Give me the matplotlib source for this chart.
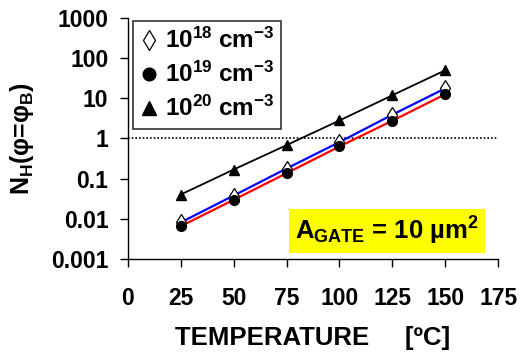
import matplotlib
matplotlib.use("Agg")
import matplotlib.pyplot as plt
import numpy as np

plt.rcParams['font.family'] = ['Liberation Sans', 'DejaVu Sans']
plt.rcParams['font.weight'] = 'bold'
plt.rcParams['mathtext.fontset'] = 'custom'
plt.rcParams['mathtext.rm'] = 'Liberation Sans:bold'
plt.rcParams['mathtext.it'] = 'Liberation Sans:bold'
plt.rcParams['mathtext.bf'] = 'Liberation Sans:bold'
plt.rcParams['mathtext.sf'] = 'Liberation Sans:bold'

temperature = [25, 50, 75, 100, 125, 150]
n_1e18 = [0.0081, 0.0377, 0.178, 0.81, 3.9, 17.7]
n_1e19 = [0.0065, 0.0295, 0.136, 0.63, 2.76, 12.6]
n_1e20 = [0.040, 0.168, 0.68, 2.8, 11.9, 49.9]
labels = [r'$10^{18}$ cm$^{-3}$', r'$10^{19}$ cm$^{-3}$', r'$10^{20}$ cm$^{-3}$']
xticks = [0, 25, 50, 75, 100, 125, 150, 175]
yticks = [0.001, 0.01, 0.1, 1, 10, 100, 1000]
ytick_labels = ['0.001', '0.01', '0.1', '1', '10', '100', '1000']

fig = plt.figure(figsize=(5.2, 3.6), dpi=100)
ax = fig.add_axes([0.246, 0.281, 0.712, 0.669])

ax.plot(temperature, n_1e18, color='blue', lw=1.6, zorder=2)
ax.plot(temperature, n_1e19, color='red', lw=1.6, zorder=2)
ax.plot(temperature, n_1e20, color='black', lw=1.3, zorder=2)

h1, = ax.plot(temperature, n_1e18, ls='none', marker='d', ms=8, mfc='white', mec='black', mew=0.9, zorder=3)
h2, = ax.plot(temperature, n_1e19, ls='none', marker='o', ms=7, mfc='black', mec='black', zorder=4)
h3, = ax.plot(temperature, n_1e20, ls='none', marker='^', ms=7.5, mfc='black', mec='black', zorder=3)

ax.axhline(1, color='black', ls=(0, (1, 1.2)), lw=1.2, zorder=1)

ax.set_yscale('log')
ax.set_xlim(0, 175)
ax.set_ylim(0.001, 1000)
ax.set_xticks(xticks)
ax.set_xticklabels([str(t) for t in xticks], fontsize=16.5, fontweight='bold')
ax.set_yticks(yticks)
ax.set_yticklabels(ytick_labels, fontsize=16.5, fontweight='bold')
ax.minorticks_off()
ax.tick_params(axis='both', direction='out', length=6, width=1)
ax.tick_params(axis='y', pad=8)
ax.tick_params(axis='x', pad=14)
for s in ['top', 'right']:
    ax.spines[s].set_visible(False)
for s in ['left', 'bottom']:
    ax.spines[s].set_linewidth(1)

ax.set_xlabel('TEMPERATURE     [ºC]', fontsize=18.5, fontweight='bold', labelpad=12)
ax.set_ylabel(r'N$_\mathregular{H}$(φ=φ$_\mathregular{B}$)', fontsize=18, fontweight='bold', labelpad=11)

leg = ax.legend([h1, h2, h3], labels, loc='upper left', bbox_to_anchor=(0.014, 0.988),
                prop={'size': 17.5, 'weight': 'bold'}, frameon=True, fancybox=False,
                edgecolor='black', handlelength=0.7, handletextpad=0.3, markerscale=1.3,
                labelspacing=0.36, borderpad=0.3, borderaxespad=0.0)
leg.get_frame().set_linewidth(1.2)

ax.text(0.70, 0.116, r'A$_\mathregular{GATE}$ = 10 µm$^\mathregular{2}$', transform=ax.transAxes,
        fontsize=18.5, fontweight='bold', ha='center', va='center',
        bbox=dict(boxstyle='square,pad=0.22', facecolor='yellow', edgecolor='none'))

fig.savefig('out.png', dpi=100)
